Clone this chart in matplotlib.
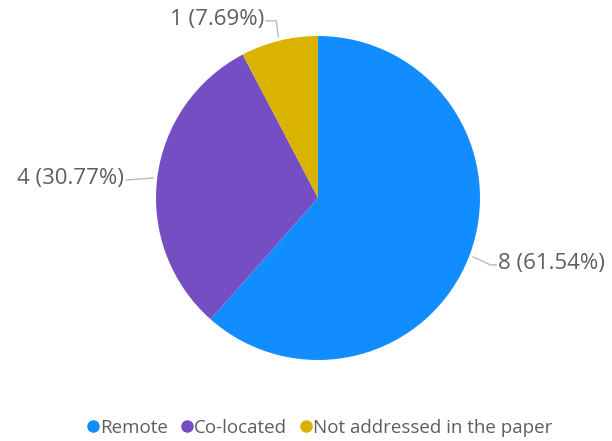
import matplotlib.pyplot as plt
from matplotlib.lines import Line2D
import numpy as np

plt.rcParams['font.family'] = ['Open Sans', 'DejaVu Sans']

categories = ["Remote", "Co-located", "Not addressed in the paper"]
counts = [8, 4, 1]
colors = ["#118DFF", "#744EC2", "#D9B300"]

W, H = 612, 441
fig = plt.figure(figsize=(W / 100, H / 100), dpi=100)
ax = fig.add_axes([0, 0, 1, 1])

cx, cy, r = 318, H - 198, 162
wedges, _ = ax.pie(counts, colors=colors, startangle=90, counterclock=False,
                   center=(cx, cy), radius=r, frame=True,
                   wedgeprops=dict(linewidth=0))
ax.set_xlim(0, W)
ax.set_ylim(0, H)
ax.set_aspect('equal')
ax.axis('off')

total = sum(counts)
text_col = "#605E5C"
line_col = "#BDBBB9"

# leader line layout per slice: (elbow dx, elbow dy, text gap, alignment)
layout = [
    (17, -8, 8, 'left'),      # Remote -> right side
    (-26, -2, 3, 'right'),    # Co-located -> left side
    (-2, 16, 12, 'right'),    # Not addressed -> top
]

for w, n, (ex, ey, gap, ha) in zip(wedges, counts, layout):
    ang = np.deg2rad((w.theta1 + w.theta2) / 2)
    px = cx + (r + 4) * np.cos(ang)
    py = cy + (r + 4) * np.sin(ang)
    ex_, ey_ = px + ex, py + ey
    sign = 1 if ha == 'left' else -1
    ax.plot([px, ex_, ex_ + sign * (gap - 2)], [py, ey_, ey_], color=line_col, lw=1)
    ax.text(ex_ + sign * gap, ey_ + 1, f"{n} ({n / total * 100:.2f}%)", ha=ha,
            va='center', fontsize=16, color=text_col)

handles = [Line2D([], [], marker='o', linestyle='', markersize=8,
                  markerfacecolor=c, markeredgecolor=c) for c in colors]
fig.legend(handles, categories, loc='center', bbox_to_anchor=(318 / W, 1 - 428 / H),
           ncol=3, frameon=False, fontsize=13.5, handletextpad=-0.1,
           columnspacing=0.5, handlelength=1.0, labelcolor=text_col)

fig.savefig("out.png", dpi=100)
